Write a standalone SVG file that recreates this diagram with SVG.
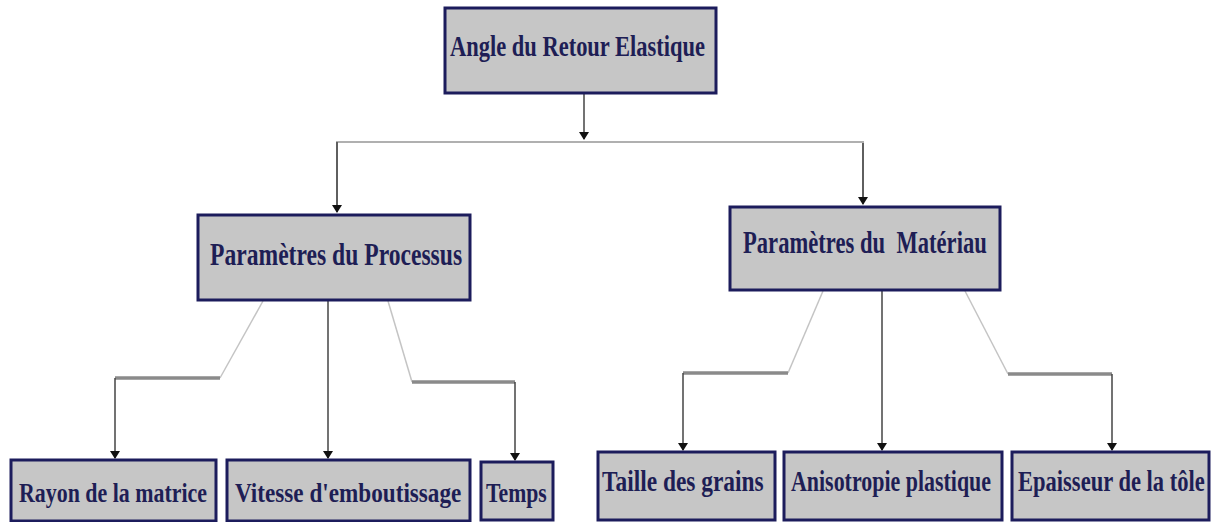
<svg xmlns="http://www.w3.org/2000/svg" width="1214" height="522" viewBox="0 0 1214 522">
<style>
.box{fill:#c6c6c6;stroke:#1c1c5c;stroke-width:3}
.t{font-family:"Liberation Serif","Times New Roman",serif;font-weight:bold;fill:#1e1e55}
.arr{fill:none;stroke:#444;stroke-width:1.5}
.thin{fill:none;stroke:#c4c4c4;stroke-width:1.5}
.hz{fill:none;stroke:#8a8a8a;stroke-width:3.5}
.top{fill:none;stroke:#b0b0b0;stroke-width:2}
</style>
<defs>
<marker id="ah" markerWidth="8" markerHeight="10" refX="7" refY="5" orient="auto" markerUnits="userSpaceOnUse" viewBox="0 0 8 10">
<path d="M0,0 L8,5 L0,10 Z" fill="#111"/>
</marker>
</defs>
<rect width="1214" height="522" fill="#fff"/>
<g id="connectors">
<line class="arr" x1="584" y1="94" x2="584" y2="139" marker-end="url(#ah)"/>
<polyline class="top" points="337,210 337,142 863,142 863,200"/>
<line class="arr" x1="337" y1="142" x2="337" y2="212" marker-end="url(#ah)"/>
<line class="arr" x1="863" y1="143" x2="863" y2="204" marker-end="url(#ah)"/>
<line class="thin" x1="263" y1="301" x2="220" y2="378"/>
<line class="hz" x1="220" y1="378" x2="115" y2="378"/>
<line class="arr" x1="115" y1="378" x2="115" y2="458" marker-end="url(#ah)"/>
<line class="arr" x1="328" y1="301" x2="328" y2="458" marker-end="url(#ah)"/>
<line class="thin" x1="388" y1="301" x2="412" y2="382"/>
<line class="hz" x1="412" y1="382" x2="515" y2="382"/>
<line class="arr" x1="515" y1="382" x2="515" y2="460" marker-end="url(#ah)"/>
<line class="thin" x1="823" y1="291" x2="788" y2="373"/>
<line class="hz" x1="788" y1="373" x2="683" y2="373"/>
<line class="arr" x1="683" y1="373" x2="683" y2="450" marker-end="url(#ah)"/>
<line class="arr" x1="882" y1="291" x2="882" y2="450" marker-end="url(#ah)"/>
<line class="thin" x1="965" y1="291" x2="1008" y2="374"/>
<line class="hz" x1="1008" y1="374" x2="1112" y2="374"/>
<line class="arr" x1="1112" y1="374" x2="1112" y2="450" marker-end="url(#ah)"/>
</g>
<g id="root">
<rect class="box" x="445" y="8" width="271" height="85"/>
<text class="t" transform="translate(450,56) scale(0.75,1)" font-size="30" textLength="340" lengthAdjust="spacingAndGlyphs">Angle du Retour Elastique</text>
</g>
<g id="processus">
<rect class="box" x="198" y="215" width="272" height="85"/>
<text class="t" transform="translate(210,265) scale(0.735,1)" font-size="32" textLength="343" lengthAdjust="spacingAndGlyphs">Paramètres du Processus</text>
</g>
<g id="materiau">
<rect class="box" x="730" y="207" width="270" height="83"/>
<text class="t" transform="translate(743,253) scale(0.73,1)" font-size="31" textLength="334" lengthAdjust="spacingAndGlyphs" xml:space="preserve">Paramètres du  Matériau</text>
</g>
<g id="rayon">
<rect class="box" x="11" y="460" width="205" height="61"/>
<text class="t" transform="translate(19,502) scale(0.78,1)" font-size="28" textLength="241" lengthAdjust="spacingAndGlyphs">Rayon de la matrice</text>
</g>
<g id="vitesse">
<rect class="box" x="227" y="460" width="243" height="61"/>
<text class="t" transform="translate(235,502) scale(0.82,1)" font-size="28" textLength="276" lengthAdjust="spacingAndGlyphs">Vitesse d'emboutissage</text>
</g>
<g id="temps">
<rect class="box" x="481" y="462" width="72" height="58"/>
<text class="t" transform="translate(486,502) scale(0.75,1)" font-size="28" textLength="81" lengthAdjust="spacingAndGlyphs">Temps</text>
</g>
<g id="taille">
<rect class="box" x="598" y="452" width="177" height="68"/>
<text class="t" transform="translate(602,491) scale(0.77,1)" font-size="30" textLength="210" lengthAdjust="spacingAndGlyphs">Taille des grains</text>
</g>
<g id="anisotropie">
<rect class="box" x="784" y="452" width="218" height="68"/>
<text class="t" transform="translate(791,491) scale(0.73,1)" font-size="30" textLength="274" lengthAdjust="spacingAndGlyphs">Anisotropie plastique</text>
</g>
<g id="epaisseur">
<rect class="box" x="1012" y="452" width="197" height="68"/>
<text class="t" transform="translate(1018,491) scale(0.75,1)" font-size="30" textLength="249" lengthAdjust="spacingAndGlyphs">Epaisseur de la tôle</text>
</g>
</svg>
